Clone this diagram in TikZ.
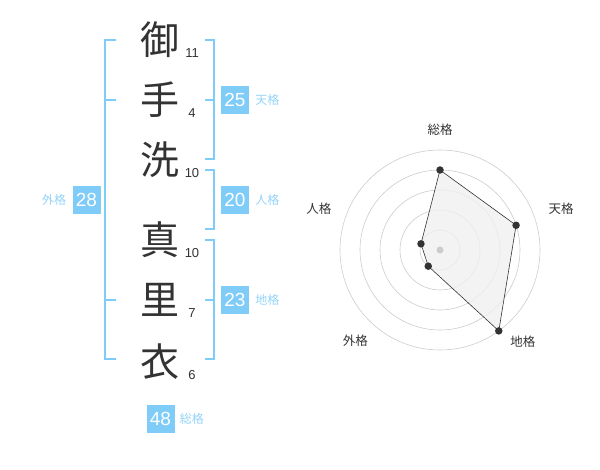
\documentclass[tikz,border=0pt]{standalone}
\usepackage{fontspec}
\setmainfont{Noto Sans CJK JP}
\newfontfamily\digitfont{Liberation Sans}
\usetikzlibrary{positioning}
\definecolor{seiblue}{HTML}{80CCF8}
\definecolor{seitext}{HTML}{333333}
\tikzset{
  kanji/.style = {font=\fontsize{39}{39}\selectfont, text=seitext, inner sep=0pt},
  strokes/.style = {font=\digitfont\fontsize{13}{13}\selectfont, text=seitext, inner sep=0pt},
  bracket/.style = {draw=seiblue, line width=2pt},
  score/.style = {fill=seiblue, text=white, minimum width=28pt, minimum height=28pt,
                  inner sep=0pt, font=\digitfont\fontsize{19}{19}\selectfont},
  score label/.style = {text=seiblue!85!white, inner sep=0pt, font=\fontsize{12}{12}\selectfont},
  ring/.style = {draw=black!20!white, line width=0.6pt},
  axis label/.style = {text=seitext, inner sep=0pt, font=\fontsize{12.5}{12.5}\selectfont},
  dot/.style = {circle, fill=seitext, inner sep=0pt, minimum size=7.5pt},
}
\begin{document}
\begin{tikzpicture}[x=1pt, y=-1pt]
  \useasboundingbox (0,0) rectangle (600,470);

  % Name characters with stroke counts
  \foreach \ch/\y/\n [count=\i] in {御/40/11, 手/100/4, 洗/160/10, 真/240/10, 里/300/7, 衣/362/6}{
    \node (char\i) [kanji] at (160,\y) {\ch};
    \node (count\i) [strokes] at (192,\y+13) {\n};
  }

  % Left bracket
  \draw [bracket] (116,40) -- (105,40) -- (105,359) -- (116,359);
  \draw [bracket] (105,100) -- (116,100);
  \draw [bracket] (105,300) -- (116,300);

  % Right brackets
  \draw [bracket] (205,40) -- (214,40) -- (214,159) -- (205,159);
  \draw [bracket] (214,100) -- (205,100);
  \draw [bracket] (205,170) -- (214,170) -- (214,229) -- (205,229);
  \draw [bracket] (205,240) -- (214,240) -- (214,359) -- (205,359);
  \draw [bracket] (214,300) -- (205,300);

  % Scores
  \node (ten) [score] at (235,100) {25};
  \node [score label, right=6pt of ten] {天格};
  \node (jin) [score] at (235,200) {20};
  \node [score label, right=6pt of jin] {人格};
  \node (chi) [score] at (235,300) {23};
  \node [score label, right=6pt of chi] {地格};
  \node (gai) [score] at (86.5,200) {28};
  \node [score label, left=6pt of gai] {外格};
  \node (sou) [score] at (160.5,419) {48};
  \node [score label, right=5pt of sou] {総格};

  % Radar chart (y points down, so angles run clockwise)
  \begin{scope}[shift={(440,250)}]
    \foreach \r in {20, 40, 60, 80, 100}
      \draw [ring] (0,0) circle (\r);
    \coordinate (pSou) at (-90:80);
    \coordinate (pTen) at (-18:80);
    \coordinate (pChi) at (54:100);
    \coordinate (pGai) at (126:20);
    \coordinate (pJin) at (198:20);
    \filldraw [fill=black!6!white, fill opacity=0.8, draw=seitext, line width=0.6pt]
      (pSou) -- (pTen) -- (pChi) -- (pGai) -- (pJin) -- cycle;
    \fill [black!20!white] (0,0) circle (3.5);
    \foreach \p in {pSou, pTen, pChi, pGai, pJin}
      \node [dot] at (\p) {};
    \node [axis label] at (-90:120) {総格};
    \node [axis label] at (-19:128) {天格};
    \node [axis label] at (48:124) {地格};
    \node [axis label] at (133:124) {外格};
    \node [axis label] at (199:128) {人格};
  \end{scope}
\end{tikzpicture}
\end{document}
